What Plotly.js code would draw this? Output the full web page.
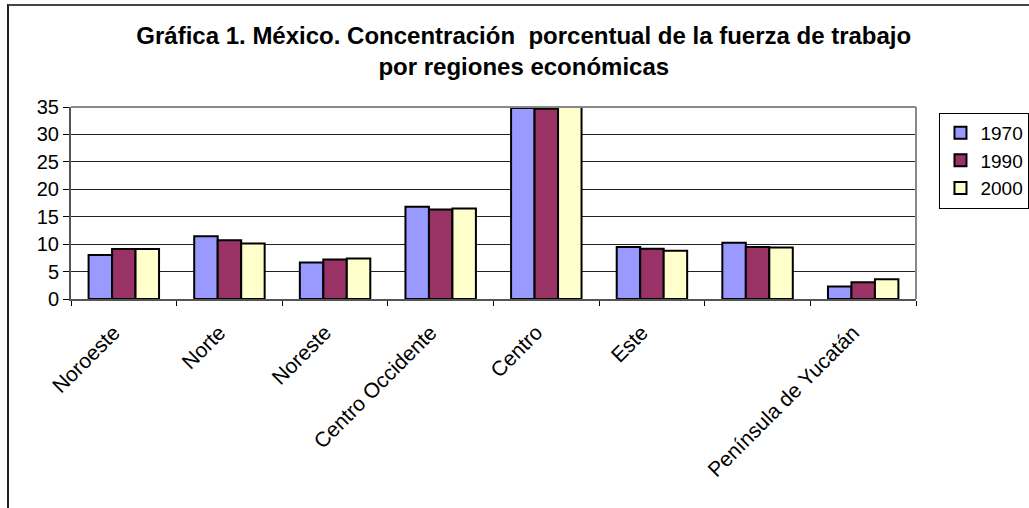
<!DOCTYPE html>
<html>
<head>
<meta charset="utf-8">
<script src="https://cdn.plot.ly/plotly-3.0.1.min.js"></script>
<style>
html,body{margin:0;padding:0;background:#fff;overflow:hidden;}
#frame{position:absolute;left:7px;top:4px;width:1030px;height:520px;border-left:2px solid #222;border-top:2px solid #444;box-sizing:border-box;pointer-events:none;z-index:10;}
#chart{position:absolute;left:0;top:0;width:1029px;height:508px;}
</style>
</head>
<body>
<div id="chart"></div>
<div id="frame"></div>
<script>
const categories = ["Noroeste","Norte","Noreste","Centro Occidente","Centro","Este","Sur","Península de Yucatán"];
const tickLabels = ["Noroeste","Norte","Noreste","Centro Occidente","Centro","Este","","Península de Yucatán"];
const seriesNames = ["1970","1990","2000"];
const v1970 = [8.0, 11.45, 6.65, 16.8, 34.8, 9.5, 10.25, 2.3];
const v1990 = [9.1, 10.7, 7.2, 16.3, 34.7, 9.15, 9.5, 3.05];
const v2000 = [9.1, 10.1, 7.4, 16.5, 35.0, 8.8, 9.4, 3.6];
const colors = ["#9999FF","#993366","#FFFFCC"];

const values = [v1970, v1990, v2000];
const traces = values.map((v,i)=>({
  type:"bar",
  name:seriesNames[i],
  x:categories,
  y:v,
  marker:{color:colors[i], line:{color:"#000", width:2}},
  hoverinfo:"x+y+name"
}));

const layout = {
  width:1029, height:508,
  margin:{l:71, r:113, t:107, b:209, autoexpand:false},
  paper_bgcolor:"#fff", plot_bgcolor:"#fff",
  font:{family:"Liberation Sans, Arial, sans-serif", color:"#000", size:20},
  title:{text:"<b>Gráfica 1. México. Concentración  porcentual de la fuerza de trabajo<br>por regiones económicas</b>",
         x:0.509, xanchor:"center", y:0.913, yanchor:"top",
         font:{size:24, color:"#000", family:"Liberation Sans, Arial, sans-serif"}},
  barmode:"group",
  bargap:0.333, bargroupgap:0,
  showlegend:true,
  legend:{xref:"container", yref:"container", x:0.913, xanchor:"left", y:0.778, yanchor:"top",
          bordercolor:"#000", borderwidth:1, bgcolor:"#fff",
          font:{size:19}, itemwidth:30},
  xaxis:{type:"category", tickvals:categories, ticktext:tickLabels,
         tickangle:-45, ticks:"outside", ticklen:5, tickcolor:"#000",
         tickson:"boundaries", showline:true, linecolor:"#555", linewidth:2,
         mirror:false, showgrid:false, ticklabelstandoff:11, ticklabelshift:-10,
         tickfont:{size:21}},
  yaxis:{range:[0,35], dtick:5, tick0:0, ticks:"outside", ticklen:6, tickcolor:"#000",
         showline:true, linecolor:"#555", linewidth:2, showgrid:true,
         gridcolor:"#222", gridwidth:1, zeroline:false, tickfont:{size:20}},
  shapes:[
    {type:"line", xref:"paper", yref:"paper", x0:1, x1:1, y0:0, y1:1, line:{color:"#888", width:2}},
    {type:"line", xref:"paper", yref:"paper", x0:0, x1:1, y0:1, y1:1, line:{color:"#888", width:2}}
  ]
};
Plotly.newPlot("chart", traces, layout, {displayModeBar:false, staticPlot:true});
</script>
</body>
</html>
